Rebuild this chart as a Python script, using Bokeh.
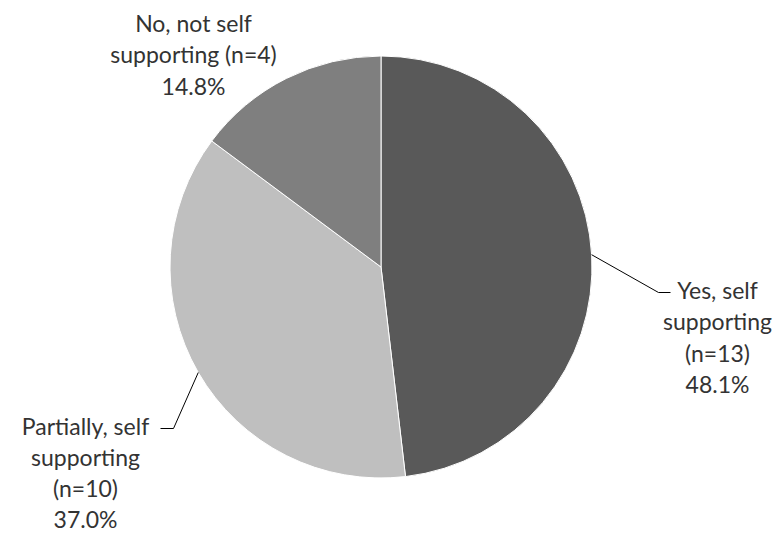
import math
from bokeh.plotting import figure
from bokeh.models import Range1d, ColumnDataSource
from bokeh.core.properties import value
from bokeh.embed import file_html
from bokeh.resources import INLINE

# ---- data ----
categories = ["Yes, self supporting", "Partially, self supporting", "No, not self supporting"]
counts = [13, 10, 4]
label_lines = [
    ["Yes, self", "supporting", "(n=13)"],
    ["Partially, self", "supporting", "(n=10)"],
    ["No, not self", "supporting (n=4)"],
]
colors = ["#595959", "#bfbfbf", "#7f7f7f"]

# ---- layout ----
W, H = 781, 535
OFF = 0


def px(xi):
    return xi - OFF


def py(yi):
    return H + OFF - yi


CX, CY, R = px(380.5), py(266.5), 211
# label anchors (image px): centre x, first line y, line spacing, leader
label_layout = [
    dict(x=717, y0=289, dy=31.5, leader=[(658, 292), (670, 292)]),
    dict(x=85, y0=425, dy=31, leader=[(173, 428), (160, 428)]),
    dict(x=193, y0=22, dy=31.5, leader=None),
]

p = figure(width=W, height=H, x_range=Range1d(0, W), y_range=Range1d(0, H),
           output_backend="svg", toolbar_location=None, min_border=0)
p.axis.visible = False
p.grid.visible = False
p.outline_line_color = None
p.background_fill_color = "white"
p.border_fill_color = "white"

total = sum(counts)
start = math.pi / 2
starts, ends, mids = [], [], []
for c in counts:
    sweep = 2 * math.pi * c / total
    end = start - sweep
    starts.append(start)
    ends.append(end)
    mids.append((start + end) / 2)
    start = end

src = ColumnDataSource(dict(x=[CX] * len(counts), y=[CY] * len(counts),
                            start=starts, end=ends, color=colors, cat=categories))
p.wedge(x="x", y="y", radius=R, start_angle="start", end_angle="end",
        direction="clock", fill_color="color", line_color="#ffffff",
        line_width=1, source=src)

tx, ty, tt = [], [], []
for i, c in enumerate(counts):
    lay = label_layout[i]
    pct = f"{100 * c / total:.1f}%"
    lines = label_lines[i] + [pct]
    for j, ln in enumerate(lines):
        tx.append(px(lay["x"]))
        ty.append(py(lay["y0"] + j * lay["dy"]))
        tt.append(ln)
    if lay["leader"]:
        sx = CX + R * math.cos(mids[i])
        sy = CY + R * math.sin(mids[i])
        xs = [sx] + [px(a) for a, b in lay["leader"]]
        ys = [sy] + [py(b) for a, b in lay["leader"]]
        p.line(xs, ys, line_color="#000000", line_width=1)

p.text(x=tx, y=ty, text=tt, text_align="center", text_baseline="middle",
       text_font=value("Lato"), text_font_size="23px", text_color="#333333")

open("out.html", "w").write(file_html(p, INLINE))
